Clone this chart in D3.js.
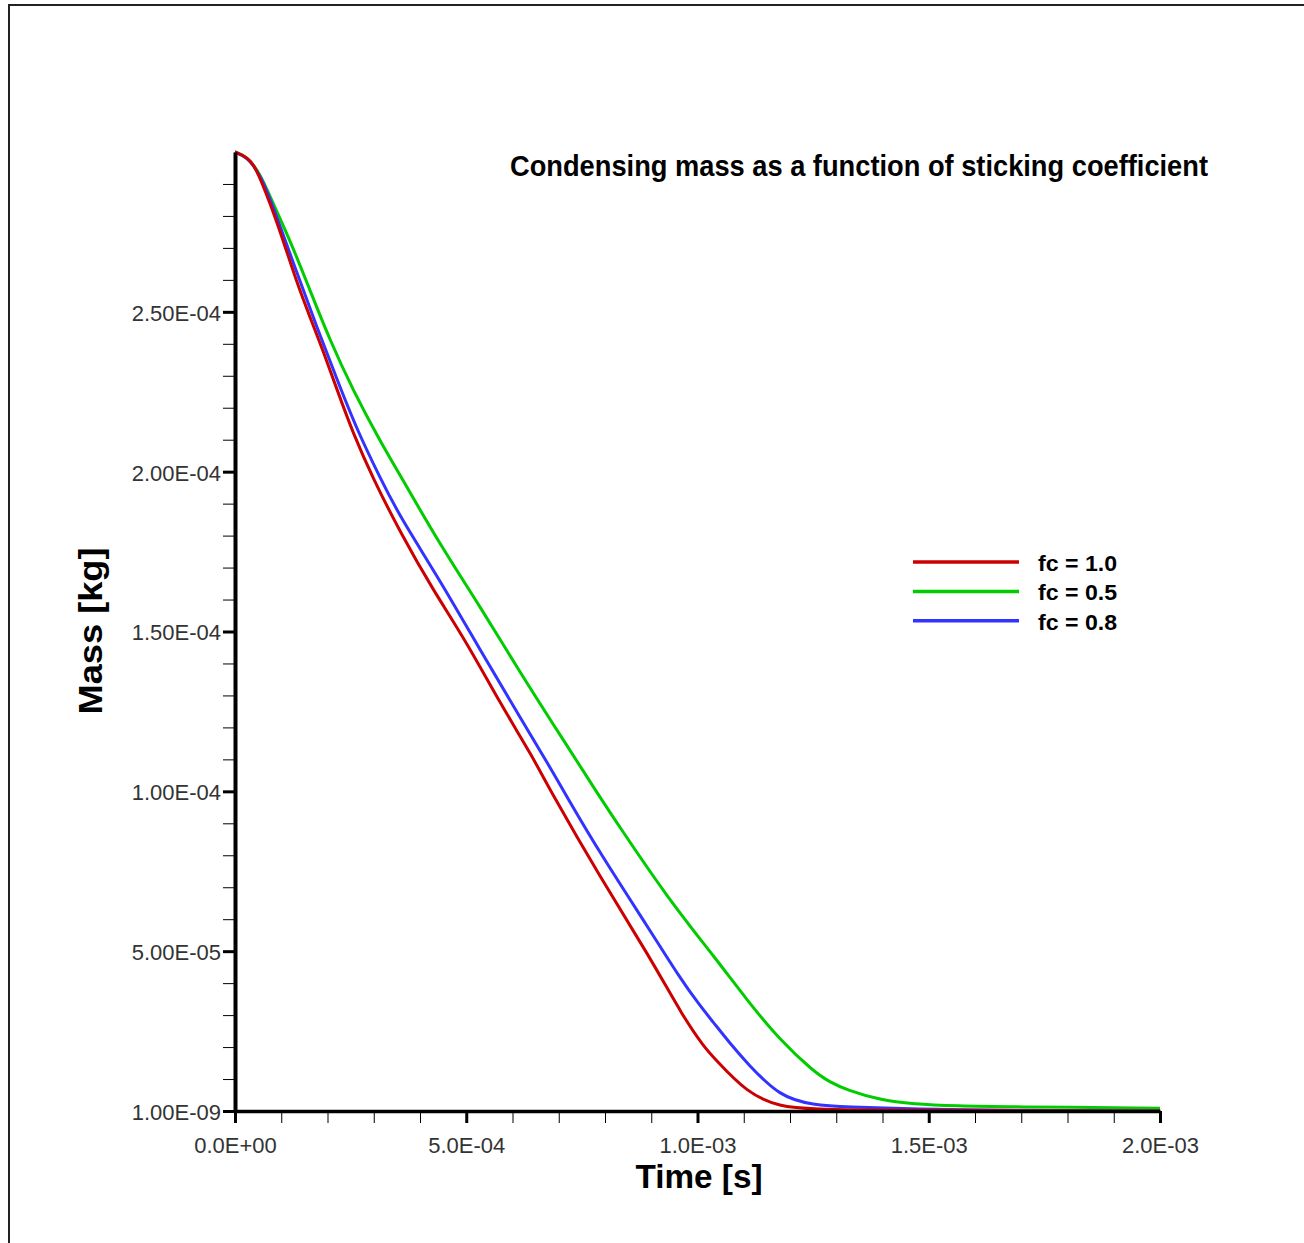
<!DOCTYPE html>
<html>
<head>
<meta charset="utf-8">
<script src="https://cdn.jsdelivr.net/npm/d3@7"></script>
<style>
  body { margin: 0; background: #fff; }
  svg { display: block; font-family: "Liberation Sans", Arial, sans-serif; }
</style>
</head>
<body>
<svg id="chart" width="1304" height="1243"></svg>
<script>
"use strict";

// time [s] and mass [kg]
var timeRed  = [0, 0.25e-4, 0.43e-4, 0.76e-4, 1.04e-4, 1.34e-4, 1.62e-4, 1.90e-4, 2.21e-4, 2.55e-4, 2.98e-4, 3.57e-4, 4.28e-4, 5.02e-4, 5.73e-4, 6.44e-4, 6.81e-4, 7.89e-4, 8.97e-4, 9.69e-4, 10.16e-4, 10.34e-4, 11.07e-4, 11.78e-4, 12.50e-4, 14.00e-4, 20.0e-4];
var massRed  = [30.0e-5, 29.85e-5, 29.59e-5, 28.40e-5, 27.24e-5, 25.90e-5, 24.84e-5, 23.80e-5, 22.55e-5, 21.21e-5, 19.80e-5, 18.11e-5, 16.30e-5, 14.64e-5, 12.76e-5, 11.07e-5, 10.04e-5, 7.32e-5, 4.82e-5, 2.94e-5, 1.97e-5, 1.69e-5, 0.56e-5, 0.13e-5, 0.06e-5, 0.02e-5, 0];

var timeGreen = [0, 0.25e-4, 0.54e-4, 0.82e-4, 1.19e-4, 1.62e-4, 2.05e-4, 2.55e-4, 3.14e-4, 3.57e-4, 4.43e-4, 5.30e-4, 6.16e-4, 7.03e-4, 7.89e-4, 8.26e-4, 9.34e-4, 10.42e-4, 11.07e-4, 11.78e-4, 12.50e-4, 12.86e-4, 13.23e-4, 13.95e-4, 14.66e-4, 15.61e-4, 16.69e-4, 20.0e-4];
var massGreen = [30.0e-5, 29.87e-5, 29.34e-5, 28.40e-5, 27.24e-5, 25.68e-5, 24.12e-5, 22.55e-5, 20.95e-5, 19.89e-5, 17.72e-5, 15.78e-5, 13.73e-5, 11.76e-5, 9.82e-5, 9.01e-5, 6.69e-5, 4.72e-5, 3.47e-5, 2.22e-5, 1.25e-5, 0.90e-5, 0.66e-5, 0.34e-5, 0.22e-5, 0.16e-5, 0.13e-5, 0.09e-5];

var timeBlue = [0, 0.25e-4, 0.54e-4, 0.91e-4, 1.34e-4, 1.77e-4, 2.21e-4, 2.64e-4, 3.14e-4, 3.57e-4, 4.43e-4, 5.30e-4, 6.16e-4, 6.81e-4, 7.18e-4, 7.89e-4, 8.97e-4, 9.62e-4, 10.05e-4, 10.34e-4, 10.70e-4, 11.07e-4, 11.78e-4, 12.50e-4, 13.23e-4, 14.66e-4, 15.96e-4, 20.0e-4];
var massBlue = [30.0e-5, 29.85e-5, 29.34e-5, 27.96e-5, 26.21e-5, 24.52e-5, 22.87e-5, 21.30e-5, 19.80e-5, 18.58e-5, 16.61e-5, 14.42e-5, 12.32e-5, 10.76e-5, 9.82e-5, 8.07e-5, 5.66e-5, 4.16e-5, 3.30e-5, 2.78e-5, 2.12e-5, 1.50e-5, 0.44e-5, 0.19e-5, 0.13e-5, 0.06e-5, 0.03e-5, 0];

var seriesNames = ['fc = 1.0', 'fc = 0.5', 'fc = 0.8'];
var seriesColors = ['#cc0000', '#00cc00', '#3333ff'];

var xTickValues = [0, 5e-4, 1e-3, 1.5e-3, 2e-3];
var xTickLabels = ['0.0E+00', '5.0E-04', '1.0E-03', '1.5E-03', '2.0E-03'];
var yTickValues = [1e-9, 5e-5, 1e-4, 1.5e-4, 2e-4, 2.5e-4];
var yTickLabels = ['1.00E-09', '5.00E-05', '1.00E-04', '1.50E-04', '2.00E-04', '2.50E-04'];

function draw() {
  var svg = d3.select('#chart');

  // frame (top and left edges only)
  svg.append('path')
    .attr('d', 'M9,1243V5H1304')
    .attr('fill', 'none')
    .attr('stroke', '#222')
    .attr('stroke-width', 2);

  var X = d3.scaleLinear().domain([0, 2e-3]).range([235, 1160]);
  var Y = d3.scaleLinear().domain([1e-9, 3e-4]).range([1111, 152]);

  // minor ticks
  var xMinor = X.ticks(20).filter(function (t) {
    return xTickValues.every(function (v) { return Math.abs(v - t) > 1e-9; });
  });
  var yMinor = Y.ticks(30).filter(function (t) {
    return t < 2.95e-4 && yTickValues.every(function (v) { return Math.abs(v - t) > 1e-7; });
  });

  var gxMinor = svg.append('g')
    .attr('transform', 'translate(0,1111)')
    .call(d3.axisBottom(X).tickValues(xMinor).tickSize(12).tickFormat(''));
  gxMinor.select('.domain').remove();
  gxMinor.selectAll('line').attr('stroke', '#000').attr('stroke-width', 1);

  var gyMinor = svg.append('g')
    .attr('transform', 'translate(235,0)')
    .call(d3.axisLeft(Y).tickValues(yMinor).tickSize(12).tickFormat(''));
  gyMinor.select('.domain').remove();
  gyMinor.selectAll('line').attr('stroke', '#000').attr('stroke-width', 1);

  // curves
  var times = [timeRed, timeGreen, timeBlue];
  var masses = [massRed, massGreen, massBlue];
  var line = d3.line()
    .x(function (d) { return X(d[0]); })
    .y(function (d) { return Y(d[1]); })
    .curve(d3.curveBasis);

  // green first, then blue, red on top
  [1, 2, 0].forEach(function (i) {
    var pts = times[i].map(function (t, j) { return [t, masses[i][j]]; });
    svg.append('path')
      .datum(pts)
      .attr('d', line)
      .attr('fill', 'none')
      .attr('stroke', seriesColors[i])
      .attr('stroke-width', 3)
      .attr('stroke-linejoin', 'round');
  });

  // major axes
  var gx = svg.append('g')
    .attr('transform', 'translate(0,1111)')
    .call(d3.axisBottom(X).tickValues(xTickValues).tickSize(12).tickSizeOuter(0)
      .tickFormat(function (d, i) { return xTickLabels[i]; }));
  gx.select('.domain').attr('stroke', '#000').attr('stroke-width', 3.5);
  gx.selectAll('line').attr('stroke', '#000').attr('stroke-width', 3);
  gx.selectAll('text')
    .attr('y', 26)
    .attr('dy', '0.71em')
    .attr('fill', '#333')
    .style('font-size', '22px');

  var gy = svg.append('g')
    .attr('transform', 'translate(235,0)')
    .call(d3.axisLeft(Y).tickValues(yTickValues).tickSize(12).tickSizeOuter(0)
      .tickFormat(function (d, i) { return yTickLabels[i]; }));
  gy.select('.domain').attr('stroke', '#000').attr('stroke-width', 4);
  gy.selectAll('line').attr('stroke', '#000').attr('stroke-width', 3);
  gy.selectAll('text')
    .attr('x', -14)
    .attr('dy', '0.38em')
    .attr('fill', '#333')
    .style('font-size', '22px');

  // axis titles
  svg.append('text')
    .attr('x', 699)
    .attr('y', 1188)
    .attr('text-anchor', 'middle')
    .attr('textLength', 127)
    .attr('lengthAdjust', 'spacingAndGlyphs')
    .style('font-size', '33px')
    .style('font-weight', 'bold')
    .text('Time [s]');

  svg.append('text')
    .attr('transform', 'translate(102,631) rotate(-90)')
    .attr('text-anchor', 'middle')
    .attr('textLength', 167)
    .attr('lengthAdjust', 'spacingAndGlyphs')
    .style('font-size', '34px')
    .style('font-weight', 'bold')
    .text('Mass [kg]');

  // title
  svg.append('text')
    .attr('x', 510)
    .attr('y', 176)
    .attr('textLength', 698)
    .attr('lengthAdjust', 'spacingAndGlyphs')
    .style('font-size', '29px')
    .style('font-weight', 'bold')
    .text('Condensing mass as a function of sticking coefficient');

  // legend
  var legend = svg.append('g').attr('transform', 'translate(913,562)');
  seriesNames.forEach(function (name, i) {
    var row = legend.append('g').attr('transform', 'translate(0,' + (i * 29.4) + ')');
    row.append('line')
      .attr('x1', 0).attr('x2', 106)
      .attr('stroke', seriesColors[i])
      .attr('stroke-width', 3.5);
    row.append('text')
      .attr('x', 125)
      .attr('y', 9)
      .attr('textLength', 79)
      .attr('lengthAdjust', 'spacingAndGlyphs')
      .style('font-size', '22px')
      .style('font-weight', 'bold')
      .text(name);
  });
}

draw();
</script>
</body>
</html>
